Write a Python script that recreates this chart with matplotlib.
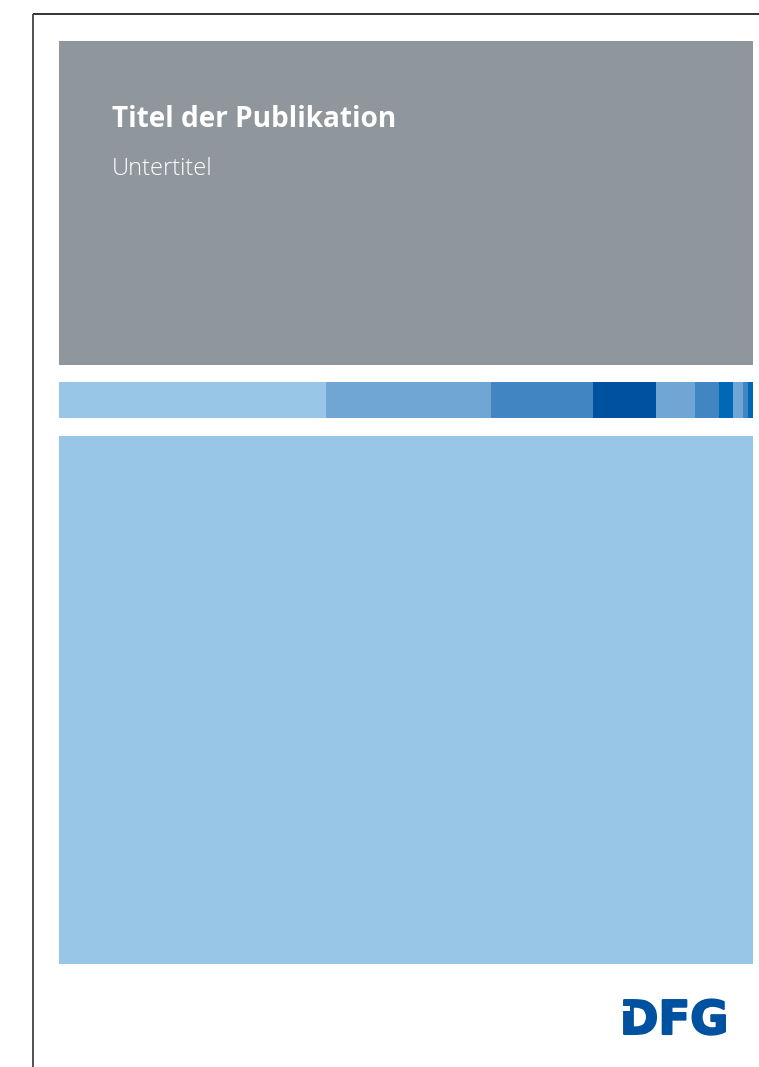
import matplotlib
matplotlib.use("Agg")
import matplotlib.pyplot as plt
from matplotlib.patches import Rectangle
import matplotlib.patheffects as pe

# ---- content ----
title = "Titel der Publikation"
subtitle = "Untertitel"
logo_text = "DFG"

# colour strip segments (left edge, right edge, colour) in page units
strip_starts = [59, 326, 491, 593, 656, 695, 719, 733, 743, 748]
strip_ends = [326, 491, 593, 656, 695, 719, 733, 743, 748, 753]
strip_colors = ["#97C6E7", "#70A6D4", "#4186C2", "#0052A0", "#70A6D4",
                "#4186C2", "#0068B4", "#70A6D4", "#4186C2", "#0068B4"]

W, H = 759, 1067
fig = plt.figure(figsize=(W / 100, H / 100), dpi=100)
ax = fig.add_axes([0, 0, 1, 1])
ax.set_xlim(0, W)
ax.set_ylim(H, 0)
ax.axis("off")

# page border
ax.plot([33, W], [13.5, 13.5], color="#111111", lw=1.2, solid_capstyle="butt")
ax.plot([33, 33], [13.5, H], color="#333333", lw=1.2, solid_capstyle="butt")

# gray title panel
ax.add_patch(Rectangle((59, 41), 694, 324, facecolor="#8F979D", edgecolor="none"))

# colour strip
ax.barh([400] * len(strip_starts),
        [e - s for s, e in zip(strip_starts, strip_ends)],
        left=strip_starts, height=36, color=strip_colors, edgecolor="none")

# large light blue panel
ax.add_patch(Rectangle((59, 436), 694, 528, facecolor="#97C6E7", edgecolor="none"))

# texts
ax.text(112, 127, title, color="white", fontsize=20.2, fontweight="bold",
        family=["Open Sans", "DejaVu Sans"], va="baseline", ha="left")
ax.text(112, 175, subtitle, color="white", fontsize=17, fontweight="light",
        family=["Open Sans", "DejaVu Sans"], va="baseline", ha="left")

# logo
ax.text(674, 1034, logo_text, color="#0052A0", fontsize=33.5, fontweight="bold",
        family=["DejaVu Sans"], va="baseline", ha="center",
        path_effects=[pe.withStroke(linewidth=1.5, foreground="#0052A0")])
ax.add_patch(Rectangle((617, 1006), 13, 5, facecolor="white", edgecolor="none", zorder=5))

fig.savefig("out.png", dpi=100)
